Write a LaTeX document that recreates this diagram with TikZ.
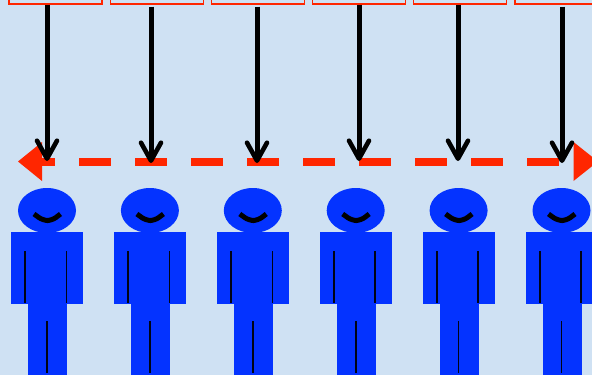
\documentclass[tikz,border=0pt]{standalone}
\usepackage{xcolor}
\usetikzlibrary{arrows.meta, positioning}
\definecolor{paleblue}{HTML}{CFE1F3}
\definecolor{figblue}{HTML}{0433FF}
\definecolor{sigred}{HTML}{FF2600}
\tikzset{
    topbox/.style={draw=sigred, line width=1.3pt, minimum width=93pt, minimum height=24pt, inner sep=0pt},
    pointer/.style={-{Straight Barb[length=18pt, width=20pt, line width=4.6pt, round]}, line width=5pt},
    detail/.style={line width=1.7pt, black!92!figblue}
}

\begin{document}
\begin{tikzpicture}[x=1pt, y=-1pt]
    \useasboundingbox[fill=paleblue] (0,0) rectangle (592,375);

    % rote Kästen oben
    \node[topbox] (box1) at (55.5,-8) {};
    \node[topbox] (box2) at (156.75,-8) {};
    \node[topbox] (box3) at (258,-8) {};
    \node[topbox] (box4) at (359,-8) {};
    \node[topbox] (box5) at (460.25,-8) {};
    \node[topbox] (box6) at (561.5,-8) {};

    % gestrichelte Linie mit Spitzen
    \draw[sigred, line width=8pt, dash pattern=on 32pt off 24pt] (23,161.5) -- (559,161.5);
    \fill[sigred] (18,161.5) -- (42,142) -- (42,181) -- cycle;
    \fill[sigred] (598,161.5) -- (573.5,142) -- (573.5,181) -- cycle;

    % Endpunkte der Pfeile
    \coordinate (hit1) at (47,161);
    \coordinate (hit2) at (151,163);
    \coordinate (hit3) at (257,163);
    \coordinate (hit4) at (359,161);
    \coordinate (hit5) at (458,161);
    \coordinate (hit6) at (562,163);

    % Pfeile von den Kästen
    \draw[pointer] (box1.south -| hit1) -- (hit1);
    \draw[pointer, shorten <=2pt] (box2.south -| hit2) -- (hit2);
    \draw[pointer, shorten <=2pt] (box3.south -| hit3) -- (hit3);
    \draw[pointer] (box4.south -| hit4) -- (hit4);
    \draw[pointer] (box5.south -| hit5) -- (hit5);
    \draw[pointer, shorten <=2pt] (box6.south -| hit6) -- (hit6);

    % Figuren
    \foreach \px in {47,149.9,252.8,355.7,458.6,561.5} {
        \fill[figblue] (\px,210.5) ellipse [x radius=29, y radius=22.5];
        \fill[figblue] (\px-36,232) rectangle (\px+36,304);
        \fill[figblue] (\px-19,304) rectangle (\px+20,375);
        \draw[line width=5pt, rounded corners=5pt] (\px-13,214) -- (\px-4,220.5) -- (\px+5,220.5) -- (\px+13.5,214);
        \draw[detail] (\px-21.7,251) -- (\px-21.7,303);
        \draw[detail] (\px+19.6,251) -- (\px+19.6,303);
        \draw[detail] (\px,321) -- (\px,373);
    }
\end{tikzpicture}
\end{document}
